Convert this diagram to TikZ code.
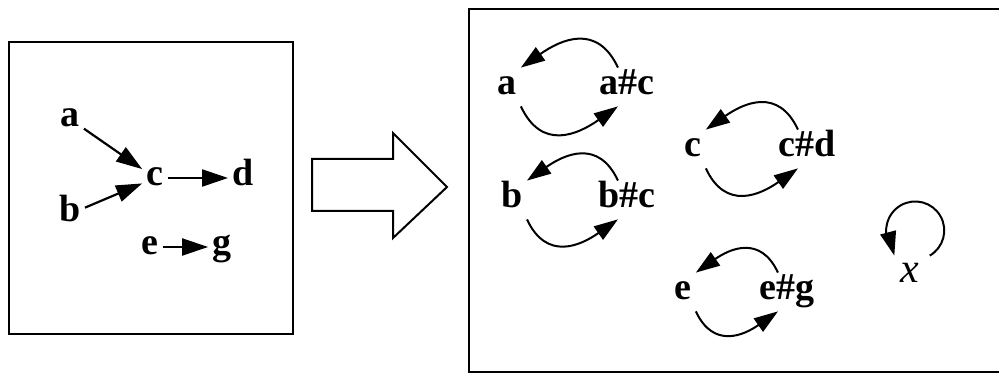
\documentclass[tikz,border=0pt]{standalone}
\usepackage{fontspec}
\setmainfont{Liberation Serif}
\usepackage{xcolor}
\definecolor{cInk}{HTML}{000000}
\usepackage{tikz}
\usetikzlibrary{arrows.meta}
\tikzset{
  node-sym/.style={inner sep=2pt,anchor=base,text height=11.5pt,text depth=3.5pt,
    font=\fontsize{19}{22}\selectfont\bfseries},
  node-var/.style={node-sym,font=\fontsize{21}{22}\selectfont\itshape},
  panel/.style={draw=cInk,line width=1pt},
  big-arrow/.style={draw=cInk,line width=1pt,line join=miter},
  % straight edges on the left, paired arcs on the right
  arrow/.style={-{Triangle[length=13pt,width=8.5pt]},line width=1.1pt,draw=cInk},
  arrow-arc/.style={-{Triangle[length=12pt,width=8pt]},line width=1pt,draw=cInk,looseness=1.3},
}

\begin{document}
\begin{tikzpicture}[x=0.5pt,y=0.5pt]
  \useasboundingbox (0,0) rectangle (999,374);
  % before
  \draw[panel] (9,40) rectangle (293,332);
  \node[node-sym] (a) at (70,247)  {a};
  \node[node-sym] (b) at (70,152)  {b};
  \node[node-sym] (c) at (155,188) {c};
  \node[node-sym] (d) at (243,188) {d};
  \node[node-sym] (e) at (150,119) {e};
  \node[node-sym] (g) at (222,119) {g};
  \draw[arrow] (a) -- (c);
  \draw[arrow] (b) -- (c);
  \draw[arrow] (c) -- (d);
  \draw[arrow] (e) -- (g);
  % transformation
  \draw[big-arrow] (312,163) -- (312,215) -- (393,215) -- (393,241) -- (447,187)
    -- (393,136) -- (393,163) -- cycle;
  % after
  \draw[panel] (999,365) -| (469,2) -- (999,2);
  \node[node-sym] (a1) at (507,279) {a};
  \node[node-sym] (ac) at (627,279) {a\#c};
  \node[node-sym] (b1) at (512,166) {b};
  \node[node-sym] (bc) at (627,166) {b\#c};
  \node[node-sym] (c1) at (693,217) {c};
  \node[node-sym] (cd) at (807,217) {c\#d};
  \node[node-sym] (e1) at (683,74)  {e};
  \node[node-sym] (eg) at (787,74)  {e\#g};
  \node[node-var] (x)  at (910,91)  {x};
  \draw[arrow-arc] (ac.115) to[out=115,in=35] (a1.north east);
  \draw[arrow-arc] (a1.south east) to[out=-65,in=-145] (ac.245);
  \draw[arrow-arc] (bc.115) to[out=115,in=35] (b1.north east);
  \draw[arrow-arc] (b1.south east) to[out=-65,in=-145] (bc.245);
  \draw[arrow-arc] (cd.115) to[out=115,in=35] (c1.north east);
  \draw[arrow-arc] (c1.south east) to[out=-65,in=-145] (cd.245);
  \draw[arrow-arc] (eg.115) to[out=115,in=35] (e1.north east);
  \draw[arrow-arc] (e1.south east) to[out=-65,in=-145] (eg.245);
  \draw[arrow-arc] ([xshift=3pt]x.north east) arc[start angle=-60,end angle=170,radius=14.5pt]
    to[out=-100,in=105] ([xshift=-1pt]x.north west);
\end{tikzpicture}
\end{document}
